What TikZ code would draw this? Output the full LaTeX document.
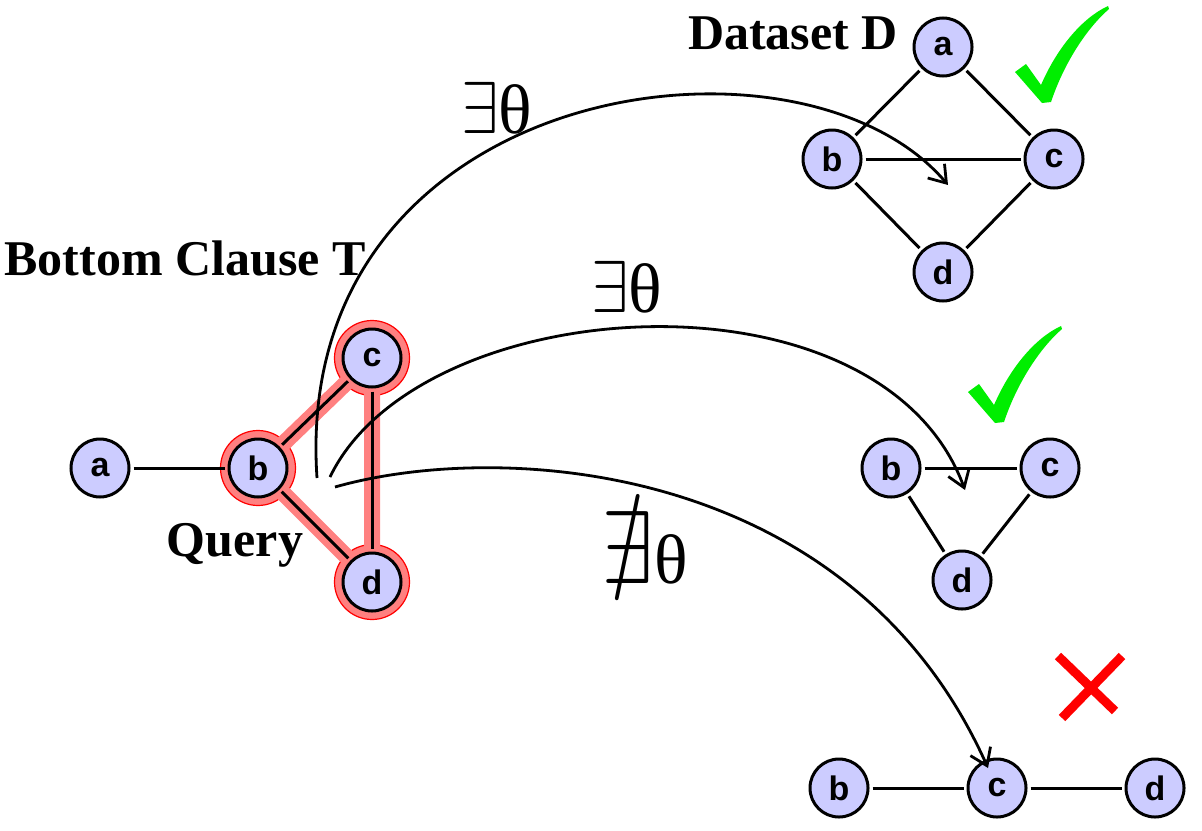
\documentclass[tikz,border=0pt]{standalone}
\usepackage{amssymb}
\usepackage{graphicx}
\usepackage{fontspec}
\setmainfont{Liberation Serif}
\newfontfamily\nodefont{Liberation Sans}
\usetikzlibrary{arrows.meta,backgrounds}

\definecolor{nodeblue}{HTML}{CCCCFF}
\definecolor{hlred}{HTML}{FF8080}
\definecolor{okgreen}{HTML}{00EE00}

\newcommand{\someq}{\scalebox{1.35}[1.48]{$\exists$}}
\newcommand{\noeq}{\scalebox{1.35}[1.48]{$\nexists$}}

\tikzset{
  vertex/.style={circle,draw,line width=1.5pt,fill=nodeblue,minimum size=29pt,
    inner sep=0pt,font=\nodefont\bfseries\fontsize{17}{17}\selectfont},
  link/.style={line width=1.5pt,shorten <=1.5pt,shorten >=1.5pt},
  halo/.style={fill=hlred,draw=red,line width=0.6pt},
  band/.style={hlred,line width=8pt},
  match/.style={line width=1.4pt,-{Straight Barb[length=8pt,width=11pt]}},
  title/.style={font=\bfseries\fontsize{25}{25}\selectfont},
  theta/.style={font=\fontsize{35}{35}\selectfont,inner sep=0pt},
  okmark/.pic={\fill[okgreen] (0,0) -- (-27,-31) -- (-16,-39) -- (-1,-18)
      .. controls (15,-55) and (40,-85) .. (66,-97) -- (67,-94)
      .. controls (45,-75) and (22,-40) .. (9,-1) -- cycle;},
}

\begin{document}
\begin{tikzpicture}[x=0.5pt,y=-0.5pt]
  \useasboundingbox (0,0) rectangle (1202,830);

  % query graph
  \node[vertex] (qa) at (100,468) {a};
  \node[vertex] (qb) at (258,468) {b};
  \node[vertex] (qc) at (372,358) {c};
  \node[vertex] (qd) at (372,582) {d};

  % dataset D
  \node[vertex] (da) at (943,47)  {a};
  \node[vertex] (db) at (832,159) {b};
  \node[vertex] (dc) at (1054,159) {c};
  \node[vertex] (dd) at (943,272) {d};

  % second graph
  \node[vertex] (mb) at (891,468)  {b};
  \node[vertex] (mc) at (1050,468) {c};
  \node[vertex] (md) at (962,580)  {d};

  % third graph
  \node[vertex] (lb) at (839,788)  {b};
  \node[vertex] (lc) at (997,788)  {c};
  \node[vertex] (ld) at (1155,788) {d};

  % highlighted query part
  \begin{scope}[on background layer]
    \foreach \n in {qb,qc,qd}
      \filldraw[halo] (\n) circle (18.75pt);
    \draw[band] (qb.center) -- (qc.center) -- (qd.center) -- cycle;
  \end{scope}

  \draw[link] (qa) -- (qb);
  \draw[link] (qb) -- (qc);
  \draw[link] (qc) -- (qd);
  \draw[link] (qb) -- (qd);

  \draw[link] (da) -- (db);
  \draw[link] (da) -- (dc);
  \draw[link] (db) -- (dc);
  \draw[link] (db) -- (dd);
  \draw[link] (dc) -- (dd);

  \draw[link] (mb) -- (mc);
  \draw[link] (mb) -- (md);
  \draw[link] (mc) -- (md);

  \draw[link] (lb) -- (lc);
  \draw[link] (lc) -- (ld);

  % labels
  \node[title] (bottom) at (185,258) {Bottom Clause T};
  \node[title] (query) at (235,545) {Query};
  \node[title] (data) at (793,33) {Dataset D};

  \node[theta] (t1) at (497,108) {\someq θ};
  \node[theta] (t2) at (627,287) {\someq θ};
  \node[theta] (t3) at (645,548) {\noeq θ};

  % mappings
  \coordinate (s1) at (317,478);
  \coordinate (e1) at (948,185);
  \coordinate (s2) at (330,477);
  \coordinate (e2) at (965,490);
  \coordinate (s3) at (335,487);
  \coordinate (e3) at (988,768);
  \draw[match] (s1) .. controls (290,80) and (800,10) .. (e1);
  \draw[match] (s2) .. controls (420,290) and (880,260) .. (e2);
  \draw[match] (s3) .. controls (500,440) and (850,460) .. (e3);

  % verdicts
  \pic at (1042,103) {okmark};
  \pic at (995,423) {okmark};
  \draw[red,line width=4.5pt] (1058,656) -- (1115,711);
  \draw[red,line width=4.5pt] (1122,656) -- (1062,718);
\end{tikzpicture}
\end{document}
